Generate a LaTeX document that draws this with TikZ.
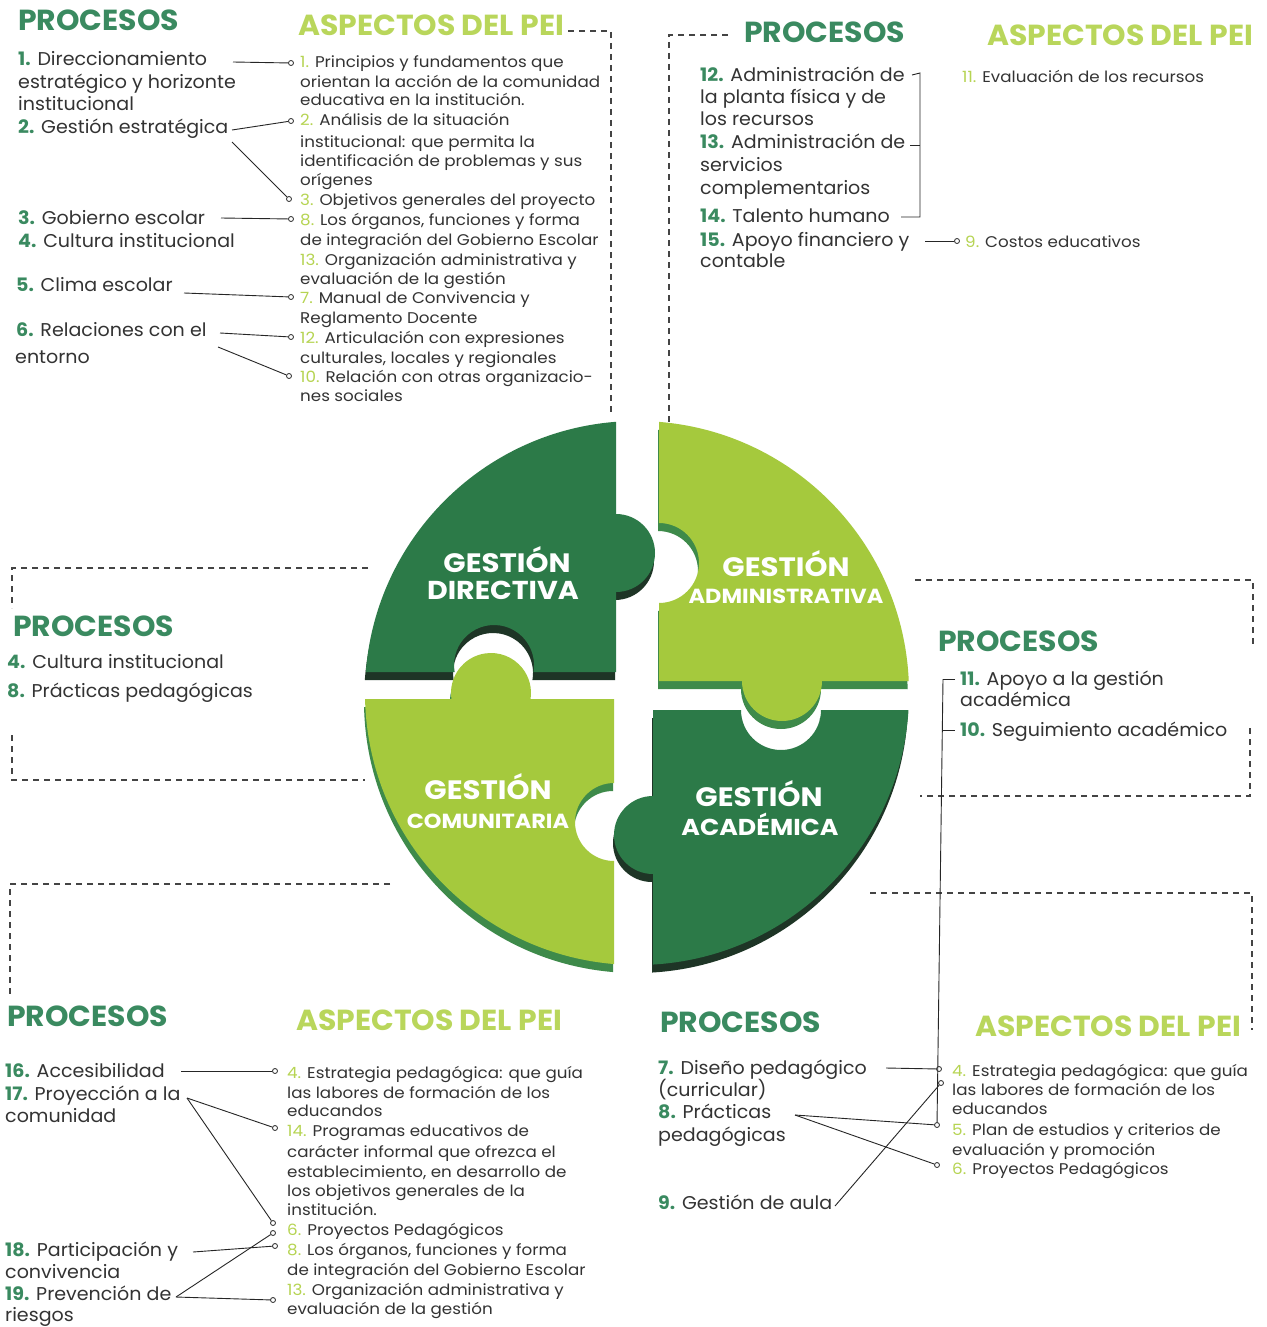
\documentclass[tikz,border=0pt]{standalone}
\usepackage{fontspec}
\setmainfont{Poppins}
\newfontfamily\procfont{Poppins}[FakeStretch=1.03]
\newfontfamily\aspfont{Poppins}[FakeStretch=1.08]
\newfontfamily\headfont{Poppins}[FakeStretch=1.03]
\newfontfamily\piecefont{Poppins}[FakeStretch=1.1]
\definecolor{dgreen}{HTML}{2C7A48}
\definecolor{lgreen}{HTML}{A5C93D}
\definecolor{dshadow}{HTML}{1E3526}
\definecolor{lshadow}{HTML}{3E8A4A}
\definecolor{procnum}{HTML}{3A8A60}
\definecolor{aspnum}{HTML}{B6D452}
\definecolor{heada}{HTML}{B9D65B}
\definecolor{txt}{HTML}{333333}
\definecolor{dashc}{HTML}{444444}
\newcommand\pn[1]{\textcolor{procnum}{\textbf{#1}}}
\newcommand\an[1]{\textcolor{aspnum}{#1}}
\newcommand\pcD[2]{\begin{scope}[shift={(#1)}]\clip (637,693) circle [radius=272];
 \fill[#2] (300,350) -- (616,350) -- (616,514) arc[start angle=-90,end angle=90,radius=39] -- (616,672) -- (533.4,672) arc[start angle=10.1,end angle=-190.1,radius=40] -- (300,672) -- cycle;\end{scope}}
\newcommand\pcA[2]{\begin{scope}[shift={(#1)}]\clip (637,693) circle [radius=272];
 \fill[#2] (659,350) -- (1000,350) -- (1000,681) -- (822,681) arc[start angle=0,end angle=180,radius=40] -- (659,681) -- (659,603) arc[start angle=90,end angle=-90,radius=40] -- cycle;\end{scope}}
\newcommand\pcC[2]{\begin{scope}[shift={(#1)}]\clip (637,693) circle [radius=272];
 \fill[#2] (300,699) -- (451.45,699) arc[start angle=171.37,end angle=368.63,radius=40] -- (614,699) -- (614,783) arc[start angle=-90,end angle=-270,radius=39] -- (614,1000) -- (300,1000) -- cycle;\end{scope}}
\newcommand\pcK[2]{\begin{scope}[shift={(#1)}]\clip (637,693) circle [radius=272];
 \fill[#2] (653,710) -- (741,710) arc[start angle=180,end angle=0,radius=40] -- (1000,710) -- (1000,1000) -- (653,1000) -- (653,874) arc[start angle=90,end angle=270,radius=39] -- cycle;\end{scope}}
\begin{document}
\begin{tikzpicture}[x=1pt,y=-1pt,
 proc/.style={anchor=base west,inner sep=0,text=txt,font=\procfont\fontsize{18.5}{22}\selectfont},
 asp/.style={anchor=base west,inner sep=0,text=txt,font=\aspfont\fontsize{15.5}{18}\selectfont},
 headp/.style={anchor=base west,inner sep=0,text=procnum,font=\headfont\fontsize{29}{30}\selectfont\bfseries},
 heada/.style={anchor=base west,inner sep=0,text=heada,font=\headfont\fontsize{29}{30}\selectfont\bfseries},
 ptext/.style={anchor=base,inner sep=0,text=white,font=\piecefont\bfseries\fontsize{#1}{#1}\selectfont},
 conn/.style={draw=black!85,line width=0.9pt},
 dot/.style={circle,draw=black!85,fill=white,inner sep=0,minimum size=5pt,line width=0.8pt},
 dsh/.style={draw=dashc,line width=1.4pt,dash pattern=on 6pt off 5pt}]
\useasboundingbox (0,0) rectangle (1266,1327);
\fill[white] (0,0) rectangle (1266,1327);

% ---------- puzzle ----------
\pcD{-1,8}{dshadow}
\pcA{-1,8}{lshadow}
\pcC{-1,8}{lshadow}
\pcK{-1,8}{dshadow}
\pcD{0,0}{dgreen}
\pcA{0,0}{lgreen}
\pcC{0,0}{lgreen}
\pcK{0,0}{dgreen}
\node[ptext=26.6] (gd1) at (507,572) {GESTIÓN};
\node[ptext=25.9] (gd2) at (503,599) {DIRECTIVA};
\node[ptext=26.6] (ga1) at (786,576) {GESTIÓN};
\node[ptext=20.4] (ga2) at (786,603) {ADMINISTRATIVA};
\node[ptext=26.6] (gc1) at (488,799) {GESTIÓN};
\node[ptext=20.4] (gc2) at (488,828) {COMUNITARIA};
\node[ptext=26.6] (gk1) at (759,806) {GESTIÓN};
\node[ptext=23] (gk2) at (760,835) {ACADÉMICA};

% ---------- dashed frames ----------
\draw[dsh] (568,31) -- (611,31) -- (611,412);
\draw[dsh] (728,35) -- (669,35) -- (669,425);
\draw[dsh] (368,568) -- (12,568) -- (12,608);
\draw[dsh] (12,735) -- (12,780) -- (365,780);
\draw[dsh] (915,580) -- (1253,580) -- (1253,648);
\draw[dsh] (1250,728) -- (1250,796) -- (920,796);
\draw[dsh] (390,884) -- (10,884) -- (10,995);
\draw[dsh] (870,893) -- (1252,893) -- (1252,1030);

% ---------- top-left ----------
\node[headp] (h1) at (18,31) {PROCESOS};
\node[heada] (h2) at (298,36) {ASPECTOS DEL PEI};
\node[proc] (tlp1) at (18,66) {\pn{1.} Direccionamiento};
\node[proc] (tlp1b) at (18,89) {estratégico y horizonte};
\node[proc] (tlp1c) at (18,111) {institucional};
\node[proc] (tlp2) at (18,134) {\pn{2.} Gestión estratégica};
\node[proc] (tlp3) at (18,224) {\pn{3.} Gobierno escolar};
\node[proc] (tlp4) at (18,247) {\pn{4.} Cultura institucional};
\node[proc] (tlp5) at (16,291) {\pn{5.} Clima escolar};
\node[proc] (tlp6) at (16,336) {\pn{6.} Relaciones con el};
\node[proc] (tlp6b) at (15,363) {entorno};

\node[asp] (tla1) at (300,68) {\an{1.} Principios y fundamentos que};
\node[asp] (tla1b) at (300,88) {orientan la acción de la comunidad};
\node[asp] (tla1c) at (300,106) {educativa en la institución.};
\node[asp] (tla2) at (300,126) {\an{2.} Análisis de la situación};
\node[asp] (tla2b) at (300,147) {institucional: que permita la};
\node[asp] (tla2c) at (300,166) {identificación de problemas y sus};
\node[asp] (tla2d) at (300,185) {orígenes};
\node[asp] (tla3) at (300,205) {\an{3.} Objetivos generales del proyecto};
\node[asp] (tla8) at (300,225) {\an{8.} Los órganos, funciones y forma};
\node[asp] (tla8b) at (300,245) {de integración del Gobierno Escolar};
\node[asp] (tla13) at (300,265) {\an{13.} Organización administrativa y};
\node[asp] (tla13b) at (300,284) {evaluación de la gestión};
\node[asp] (tla7) at (300,303) {\an{7.} Manual de Convivencia y};
\node[asp] (tla7b) at (300,323) {Reglamento Docente};
\node[asp] (tla12) at (300,343) {\an{12.} Articulación con expresiones};
\node[asp] (tla12b) at (300,363) {culturales, locales y regionales};
\node[asp] (tla10) at (300,382) {\an{10.} Relación con otras organizacio-};
\node[asp] (tla10b) at (300,401) {nes sociales};

\coordinate (s1) at (233,62);
\coordinate (s2) at (232,130);
\coordinate (s3) at (232,142);
\coordinate (s4) at (221,218);
\coordinate (s5) at (184,293);
\coordinate (s6) at (220,333);
\coordinate (s7) at (218,347);
\node[dot] (d1) at (291,63) {};
\node[dot] (d2) at (291,121) {};
\node[dot] (d3) at (289,199) {};
\node[dot] (d4) at (291,219) {};
\node[dot] (d5) at (291,297) {};
\node[dot] (d6) at (291,337) {};
\node[dot] (d7) at (289,376) {};
\draw[conn] (s1) -- (d1);
\draw[conn] (s2) -- (d2);
\draw[conn] (s3) -- (d3);
\draw[conn] (s4) -- (d4);
\draw[conn] (s5) -- (d5);
\draw[conn] (s6) -- (d6);
\draw[conn] (s7) -- (d7);

% ---------- top-right ----------
\node[headp] (h3) at (744,43) {PROCESOS};
\node[heada] (h4) at (987,46) {ASPECTOS DEL PEI};
\node[proc] (trp12) at (700,82) {\pn{12.} Administración de};
\node[proc] (trp12b) at (700,104) {la planta física y de};
\node[proc] (trp12c) at (700,126) {los recursos};
\node[proc] (trp13) at (700,149) {\pn{13.} Administración de};
\node[proc] (trp13b) at (700,171) {servicios};
\node[proc] (trp13c) at (700,194) {complementarios};
\node[proc] (trp14) at (700,222) {\pn{14.} Talento humano};
\node[proc] (trp15) at (700,246) {\pn{15.} Apoyo financiero y};
\node[proc] (trp15b) at (700,267) {contable};
\node[asp] (tra11) at (962,83) {\an{11.} Evaluación de los recursos};
\node[asp] (tra9) at (965,247) {\an{9.} Costos educativos};
\coordinate (b1) at (912,75);
\coordinate (b2) at (920,73);
\coordinate (b3) at (920,217);
\coordinate (b4) at (901,217);
\coordinate (b5) at (910,145);
\coordinate (b6) at (920,145);
\draw[conn] (b1) -- (b2) -- (b3) -- (b4);
\draw[conn] (b5) -- (b6);
\coordinate (s8) at (925,241);
\node[dot] (d8) at (957,241) {};
\draw[conn] (s8) -- (d8);

% ---------- middle-left ----------
\node[headp] (h5) at (13,636) {PROCESOS};
\node[proc] (mlp4) at (7,668) {\pn{4.} Cultura institucional};
\node[proc] (mlp8) at (7,697) {\pn{8.} Prácticas pedagógicas};

% ---------- middle-right ----------
\node[headp] (h6) at (938,651) {PROCESOS};
\node[proc] (mrp11) at (960,685) {\pn{11.} Apoyo a la gestión};
\node[proc] (mrp11b) at (960,706) {académica};
\node[proc] (mrp10) at (960,736) {\pn{10.} Seguimiento académico};

% ---------- bottom-left ----------
\node[headp] (h7) at (7,1026) {PROCESOS};
\node[heada] (h8) at (296,1030) {ASPECTOS DEL PEI};
\node[proc] (blp16) at (5,1077) {\pn{16.} Accesibilidad};
\node[proc] (blp17) at (5,1100) {\pn{17.} Proyección a la};
\node[proc] (blp17b) at (5,1122) {comunidad};
\node[proc] (blp18) at (5,1256) {\pn{18.} Participación y};
\node[proc] (blp18b) at (5,1278) {convivencia};
\node[proc] (blp19) at (5,1300) {\pn{19.} Prevención de};
\node[proc] (blp19b) at (5,1321) {riesgos};
\node[asp] (bla4) at (287,1078) {\an{4.} Estrategia pedagógica: que guía};
\node[asp] (bla4b) at (287,1098) {las labores de formación de los};
\node[asp] (bla4c) at (287,1116) {educandos};
\node[asp] (bla14) at (287,1136) {\an{14.} Programas educativos de};
\node[asp] (bla14b) at (287,1157) {carácter informal que ofrezca el};
\node[asp] (bla14c) at (287,1177) {establecimiento, en desarrollo de};
\node[asp] (bla14d) at (287,1196) {los objetivos generales de la};
\node[asp] (bla14e) at (287,1215) {institución.};
\node[asp] (bla6) at (287,1235) {\an{6.} Proyectos Pedagógicos};
\node[asp] (bla8) at (287,1255) {\an{8.} Los órganos, funciones y forma};
\node[asp] (bla8b) at (287,1275) {de integración del Gobierno Escolar};
\node[asp] (bla13) at (287,1295) {\an{13.} Organización administrativa y};
\node[asp] (bla13b) at (287,1314) {evaluación de la gestión};
\coordinate (s9) at (181,1071);
\coordinate (s10) at (187,1098);
\coordinate (s11) at (193,1252);
\coordinate (s12) at (176,1297);
\node[dot] (d9) at (275,1071) {};
\node[dot] (d10) at (275,1128) {};
\node[dot] (d11) at (273,1223) {};
\node[dot] (d12) at (273,1233) {};
\node[dot] (d13) at (275,1246) {};
\node[dot] (d14) at (273,1300) {};
\draw[conn] (s9) -- (d9);
\draw[conn] (s10) -- (d10);
\draw[conn] (s10) -- (d11);
\draw[conn] (s11) -- (d13);
\draw[conn] (s12) -- (d12);
\draw[conn] (s12) -- (d14);

% ---------- bottom-right ----------
\node[headp] (h9) at (660,1032) {PROCESOS};
\node[heada] (h10) at (975,1036) {ASPECTOS DEL PEI};
\node[proc] (brp7) at (658,1074) {\pn{7.} Diseño pedagógico};
\node[proc] (brp7b) at (658,1096) {(curricular)};
\node[proc] (brp8) at (658,1118) {\pn{8.} Prácticas};
\node[proc] (brp8b) at (658,1141) {pedagógicas};
\node[proc] (brp9) at (658,1209) {\pn{9.} Gestión de aula};
\node[asp] (bra4) at (952,1076) {\an{4.} Estrategia pedagógica: que guía};
\node[asp] (bra4b) at (952,1095) {las labores de formación de los};
\node[asp] (bra4c) at (952,1114) {educandos};
\node[asp] (bra5) at (952,1135) {\an{5.} Plan de estudios y criterios de};
\node[asp] (bra5b) at (952,1155) {evaluación y promoción};
\node[asp] (bra6) at (952,1174) {\an{6.} Proyectos Pedagógicos};
\coordinate (t11) at (955,679);
\coordinate (v1) at (943,679);
\coordinate (v2) at (942,730);
\coordinate (t10) at (955,730);
\draw[conn] (t11) -- (v1);
\draw[conn] (v2) -- (t10);
\coordinate (s13) at (886,1068);
\coordinate (s14) at (795,1115);
\coordinate (s15) at (835,1206);
\node[dot] (d15) at (939,1069) {};
\node[dot] (d16) at (941,1083) {};
\node[dot] (d17) at (937,1125) {};
\node[dot] (d18) at (937,1165) {};
\draw[conn] (v1) -- (d17);
\draw[conn] (s13) -- (d15);
\draw[conn] (s14) -- (d17);
\draw[conn] (s14) -- (d18);
\draw[conn] (s15) -- (d16);
\end{tikzpicture}
\end{document}
